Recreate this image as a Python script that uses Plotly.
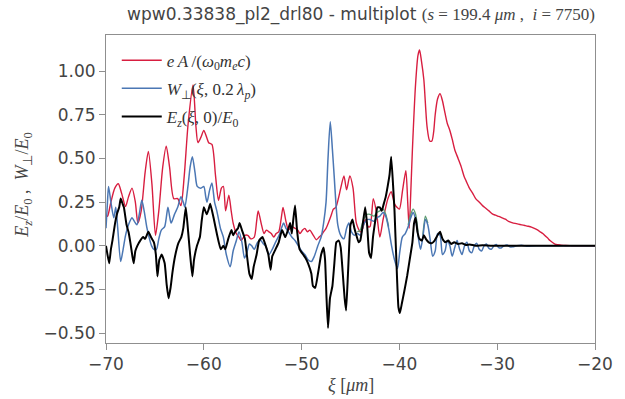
import plotly.graph_objects as go

# ---------------- data ----------------
red_x = [-70.0, -69.84, -69.5, -69.1, -68.74, -68.4, -68.0, -67.7, -67.34, -67.0, -66.74, -66.4, -66.0,
         -65.67, -65.3, -64.94, -64.6, -64.2, -63.84, -63.5, -63.07, -62.67, -62.34, -62.0, -61.6, -61.1,
         -60.8, -60.6, -60.3, -60.0, -59.7, -59.5, -59.17, -58.8, -58.5, -58.2, -58.0, -57.77, -57.44,
         -57.2, -57.0, -56.67, -56.4, -56.17, -55.8, -55.5, -55.2, -54.84, -54.6, -54.44, -54.1, -53.84,
         -53.6, -53.34, -53.1, -52.84, -52.6, -52.34, -52.1, -51.9, -51.6, -51.34, -51.0, -50.67, -50.4,
         -50.17, -49.9, -49.67, -49.4, -49.17, -48.8, -48.5, -48.2, -48.0, -47.75, -47.5, -47.2, -47.0,
         -46.75, -46.5, -46.2, -46.0, -45.67, -45.4, -45.07, -44.74, -44.4, -44.0, -43.75, -43.5, -43.2,
         -43.0, -42.67, -42.34, -42.0, -41.67, -41.4, -41.17, -40.84, -40.5, -40.25, -40.0, -39.67, -39.34,
         -39.15, -39.0, -38.84, -38.67, -38.34, -38.1, -37.94, -37.75, -37.5, -37.17, -36.9, -36.68, -36.5,
         -36.34, -36.1, -35.84, -35.6, -35.34, -35.1, -34.84, -34.6, -34.34, -34.0, -33.67, -33.4, -33.17,
         -32.84, -32.5, -32.2, -31.84, -31.5, -31.17, -30.84, -30.5, -30.17, -29.84, -29.5, -29.17, -28.84,
         -28.5, -28.17, -27.84, -27.5, -27.17, -26.84, -26.5, -26.2, -25.84, -25.6, -25.34, -25.1, -24.84,
         -24.6, -24.34, -24.1, -23.84, -23.5, -23.0, -22.5, -22.0, -20.0]
red_y = [0.17, 0.17, 0.25, 0.33, 0.355, 0.30, 0.225, 0.28, 0.33, 0.25, 0.13, 0.20, 0.42,
         0.54, 0.35, 0.06, 0.20, 0.45, 0.57, 0.45, 0.27, 0.27, 0.23, 0.40, 0.70, 0.92,
         0.68, 0.59, 0.62, 0.66, 0.62, 0.59, 0.58, 0.40, 0.26, 0.33, 0.34, 0.20, 0.29,
         0.20, 0.13, 0.07, 0.05, 0.03, 0.06, 0.06, 0.04, 0.05, 0.14, 0.20, 0.12, 0.07,
         0.09, 0.08, 0.07, 0.05, 0.07, 0.08, 0.15, 0.22, 0.14, 0.09, 0.11, 0.10, 0.09,
         0.07, 0.09, 0.10, 0.08, 0.09, 0.06, 0.035, 0.05, 0.06, 0.08, 0.10, 0.14, 0.17,
         0.21, 0.22, 0.28, 0.33, 0.40, 0.32, 0.40, 0.33, 0.13, 0.08, 0.10, 0.15, 0.11,
         0.11, 0.27, 0.19, 0.05, 0.15, 0.22, 0.27, 0.31, 0.24, 0.22, 0.21, 0.32, 0.43,
         0.25, 0.10, 0.30, 0.55, 0.93, 1.09, 1.12, 1.06, 0.95, 0.68, 0.60, 0.60, 0.65,
         0.75, 0.84, 0.87, 0.83, 0.76, 0.70, 0.66, 0.61, 0.55, 0.50, 0.45, 0.40, 0.37,
         0.33, 0.30, 0.27, 0.25, 0.23, 0.215, 0.20, 0.183, 0.175, 0.168, 0.16, 0.152, 0.14,
         0.133, 0.128, 0.124, 0.12, 0.116, 0.112, 0.107, 0.10, 0.09, 0.08, 0.07, 0.057, 0.044,
         0.03, 0.019, 0.01, 0.006, 0.004, 0.002, 0.001, 0.0, 0.0]

blue_x = [-70.0, -69.85, -69.74, -69.5, -69.2, -69.0, -68.8, -68.5, -68.25, -68.0, -67.7, -67.34, -67.1,
          -66.84, -66.6, -66.34, -66.1, -65.84, -65.6, -65.34, -65.1, -64.84, -64.6, -64.34, -64.0, -63.67,
          -63.5, -63.34, -63.0, -62.67, -62.34, -62.1, -61.94, -61.6, -61.4, -61.17, -60.9, -60.67, -60.3,
          -60.0, -59.8, -59.67, -59.4, -59.17, -58.9, -58.67, -58.3, -58.0, -57.7, -57.3, -57.0, -56.67,
          -56.4, -56.1, -55.84, -55.6, -55.34, -55.1, -54.84, -54.5, -54.17, -53.9, -53.67, -53.34, -53.0,
          -52.67, -52.3, -52.0, -51.84, -51.6, -51.34, -51.0, -50.67, -50.34, -50.0, -49.67, -49.34, -49.0,
          -48.7, -48.34, -48.0, -47.75, -47.5, -47.3, -47.07, -46.85, -46.67, -46.5, -46.3, -46.0, -45.67,
          -45.4, -45.17, -44.9, -44.6, -44.3, -44.0, -43.67, -43.3, -43.0, -42.6, -42.3, -42.0, -41.67,
          -41.4, -41.1, -40.8, -40.5, -40.2, -39.95, -39.7, -39.4, -39.1, -38.84, -38.6, -38.34, -38.1,
          -37.84, -37.6, -37.34, -37.1, -36.84, -36.6, -36.34, -36.1, -35.84, -35.6, -35.34, -35.1, -34.84,
          -34.6, -34.34, -34.1, -33.84, -33.6, -33.34, -33.1, -32.84, -32.6, -32.34, -32.1, -31.84, -31.6,
          -31.34, -31.1, -30.84, -30.6, -30.34, -30.1, -29.84, -29.6, -29.3, -29.0, -28.7, -28.4, -28.0,
          -27.5, -27.0, -26.0, -20.0]
blue_y = [0.10, 0.25, 0.34, 0.25, 0.16, 0.22, 0.10, -0.09, -0.02, 0.06, 0.12, 0.16, 0.14,
          0.12, 0.18, 0.26, 0.20, 0.11, 0.05, 0.00, -0.02, -0.02, 0.04, 0.09, 0.11, 0.22,
          0.17, 0.13, 0.18, 0.22, 0.28, 0.25, 0.22, 0.35, 0.45, 0.51, 0.42, 0.34, 0.33,
          0.34, 0.28, 0.25, 0.32, 0.36, 0.25, 0.20, 0.10, 0.05, -0.05, -0.12, -0.03, 0.03,
          0.08, 0.02, -0.07, -0.04, 0.01, 0.0, -0.02, 0.02, 0.03, 0.01, 0.0, -0.05, -0.02,
          0.02, 0.06, 0.11, 0.13, 0.10, 0.08, 0.05, 0.03, 0.0, -0.03, -0.05, -0.08, -0.09,
          -0.06, 0.0, 0.05, 0.13, 0.25, 0.50, 0.71, 0.55, 0.40, 0.25, 0.12, 0.06, 0.04,
          0.10, 0.13, 0.08, 0.06, 0.07, 0.06, 0.12, 0.15, 0.15, 0.14, 0.16, 0.17, 0.19,
          0.17, 0.10, 0.0, -0.08, -0.13, -0.03, 0.05, 0.07, 0.11, 0.16, 0.19, 0.15, 0.06,
          -0.02, 0.05, 0.15, 0.12, 0.03, -0.06, -0.03, 0.07, 0.06, -0.05, -0.03, 0.03, 0.0,
          -0.06, -0.01, 0.03, -0.02, -0.05, 0.0, 0.02, -0.03, -0.04, 0.0, 0.015, -0.02, -0.03,
          0.0, 0.01, -0.015, -0.02, 0.0, 0.008, -0.01, -0.012, 0.0, 0.005, -0.006, -0.006, 0.0,
          0.003, -0.002, 0.0, 0.0]

black_x = [-70.0, -69.85, -69.67, -69.5, -69.34, -69.07, -68.84, -68.65, -68.5, -68.3, -68.17, -67.9, -67.7,
           -67.5, -67.3, -67.17, -67.0, -66.8, -66.5, -66.2, -66.0, -65.67, -65.4, -65.1, -64.9, -64.74,
           -64.55, -64.3, -64.0, -63.8, -63.6, -63.4, -63.2, -62.94, -62.6, -62.3, -62.1, -61.84, -61.6,
           -61.4, -61.17, -61.0, -60.7, -60.4, -60.2, -60.0, -59.7, -59.5, -59.34, -59.0, -58.67, -58.27,
           -58.0, -57.8, -57.5, -57.17, -57.0, -56.8, -56.5, -56.34, -56.1, -55.8, -55.6, -55.34, -55.1,
           -54.9, -54.6, -54.34, -54.0, -53.67, -53.4, -53.17, -53.0, -52.67, -52.34, -52.0, -51.67, -51.34,
           -51.17, -51.0, -50.85, -50.67, -50.45, -50.2, -49.84, -49.6, -49.34, -49.0, -48.84, -48.6, -48.3,
           -48.0, -47.75, -47.6, -47.45, -47.3, -47.1, -46.85, -46.65, -46.45, -46.2, -46.0, -45.8, -45.6,
           -45.45, -45.25, -45.0, -44.8, -44.6, -44.4, -44.17, -44.0, -43.8, -43.5, -43.3, -43.1, -42.9,
           -42.7, -42.45, -42.25, -42.0, -41.8, -41.6, -41.4, -41.2, -41.0, -40.84, -40.65, -40.5, -40.3,
           -40.1, -39.95, -39.75, -39.5, -39.2, -38.95, -38.67, -38.5, -38.34, -38.15, -37.95, -37.7, -37.5,
           -37.3, -37.0, -36.7, -36.4, -36.1, -35.84, -35.6, -35.3, -35.0, -34.7, -34.4, -34.0, -33.6,
           -33.2, -32.8, -32.2, -31.5, -30.5, -20.0]
black_y = [0.0, -0.05, -0.10, -0.02, 0.03, 0.13, 0.19, 0.22, 0.27, 0.24, 0.22, 0.12, 0.08,
           0.015, -0.06, -0.10, -0.03, 0.0, 0.03, 0.05, 0.04, 0.08, 0.05, 0.02, -0.05, -0.175,
           -0.08, -0.05, -0.10, -0.22, -0.30, -0.24, -0.15, -0.06, 0.015, 0.05, 0.10, 0.22, 0.08,
           -0.05, -0.175, -0.08, 0.0, 0.05, 0.15, 0.22, 0.18, 0.21, 0.24, 0.16, 0.07, -0.02,
           0.0, -0.02, 0.04, 0.09, 0.06, 0.08, 0.10, 0.13, 0.09, 0.04, -0.05, -0.16, -0.19,
           -0.12, -0.05, 0.03, 0.05, 0.0, -0.05, -0.137, -0.06, -0.02, 0.02, 0.09, 0.05, 0.10,
           0.13, 0.07, 0.15, 0.23, 0.08, -0.02, -0.05, -0.07, -0.10, -0.16, -0.23, -0.24, -0.15,
           -0.05, -0.01, -0.08, -0.30, -0.47, -0.30, -0.23, -0.10, 0.02, 0.03, -0.01, -0.15, -0.30,
           -0.37, -0.15, 0.12, 0.15, 0.10, 0.06, 0.02, 0.03, 0.10, 0.22, 0.12, -0.04, -0.07,
           0.05, 0.15, 0.22, 0.22, 0.20, 0.24, 0.28, 0.34, 0.41, 0.51, 0.35, 0.20, -0.10,
           -0.35, -0.385, -0.33, -0.26, -0.17, -0.08, 0.02, 0.13, 0.16, 0.08, 0.04, 0.03, 0.06,
           0.04, 0.02, 0.015, 0.03, 0.06, 0.08, 0.04, 0.02, 0.03, 0.01, 0.02, 0.01, 0.015,
           0.005, 0.008, 0.0, 0.003, 0.0, 0.0]

# faint green line peeking out above the blue one
green_x = [-44.3, -44.0, -43.67, -43.3, -43.0, -42.6, -42.3, -42.0, -41.67, -41.4, -41.1, None,
           -39.1, -38.84, -38.6, -38.34, -38.1, None, -37.6, -37.34, -37.1]
green_y = [0.08, 0.09, 0.15, 0.18, 0.18, 0.17, 0.19, 0.20, 0.21, 0.18, 0.11, None,
           0.12, 0.18, 0.21, 0.18, 0.08, None, 0.06, 0.17, 0.13]

x_ticks = [-70, -60, -50, -40, -30, -20]
x_ticktext = ["\u221270", "\u221260", "\u221250", "\u221240", "\u221230", "\u221220"]
y_ticks = [-0.5, -0.25, 0.0, 0.25, 0.5, 0.75, 1.0]
y_ticktext = ["\u22120.50", "\u22120.25", "0.00", "0.25", "0.50", "0.75", "1.00"]

names = ["<i>e\u2009A</i>\u2009/(<i>\u03c9</i><sub>0</sub><i>m<sub>e</sub>c</i>)",
         "<i>W</i><sub>\u22a5</sub>(<i>\u03be</i>, 0.2\u2009<i>\u03bb<sub>p</sub></i>)",
         "<i>E<sub>z</sub></i>(<i>\u03be</i>, 0)/<i>E</i><sub>0</sub>"]

RED = "#d81e40"
BLUE = "#4b77b4"
BLACK = "#000000"
GREEN = "#5e9c72"
AXC = "#8f8f8f"
TXT = "#444444"

fig = go.Figure()
fig.add_trace(go.Scatter(x=red_x, y=red_y, mode="lines", name=names[0], legendgroup="a",
                         line=dict(color=RED, width=1.4, shape="spline", smoothing=0.7)))
fig.add_trace(go.Scatter(x=green_x, y=green_y, mode="lines", showlegend=False, legendgroup="b",
                         line=dict(color=GREEN, width=1.4, shape="spline", smoothing=0.7),
                         connectgaps=False))
fig.add_trace(go.Scatter(x=blue_x, y=blue_y, mode="lines", name=names[1], legendgroup="b",
                         line=dict(color=BLUE, width=1.5, shape="spline", smoothing=0.7)))
fig.add_trace(go.Scatter(x=black_x, y=black_y, mode="lines", name=names[2], legendgroup="c",
                         line=dict(color=BLACK, width=2.0, shape="spline", smoothing=0.4)))

fig.update_layout(
    width=625, height=399,
    margin=dict(l=106, r=18, t=35, b=56),
    paper_bgcolor="white", plot_bgcolor="white",
    font=dict(family="DejaVu Sans", size=17, color=TXT),
    showlegend=True,
    legend=dict(x=0.022, y=0.975, xanchor="left", yanchor="top",
                bgcolor="rgba(255,255,255,0)", borderwidth=0,
                font=dict(family="Liberation Serif", size=17, color="#333333"),
                tracegroupgap=3, itemwidth=40, traceorder="grouped"),
    title=dict(text="wpw0.33838_pl2_drl80 - multiplot <span style='font-family:Liberation Serif'>(<i>s</i> = 199.4 <i>\u03bcm</i> ,  <i>i</i> = 7750)</span>",
               x=1.0, xref="paper", xanchor="right",
               y=1 - 14 / 399, yref="container", yanchor="middle",
               font=dict(family="DejaVu Sans", size=17, color=TXT)),
    xaxis=dict(range=[-70, -20], tickvals=x_ticks, ticktext=x_ticktext,
               showline=True, mirror=True, linecolor=AXC, linewidth=1,
               ticks="outside", ticklen=6, tickcolor=AXC, showgrid=False, zeroline=False,
               tickfont=dict(size=17, color=TXT)),
    yaxis=dict(range=[-0.556, 1.206], tickvals=y_ticks, ticktext=y_ticktext,
               showline=True, mirror=True, linecolor=AXC, linewidth=1,
               ticks="outside", ticklen=6, tickcolor=AXC, showgrid=False, zeroline=False,
               tickfont=dict(size=17, color=TXT)),
    annotations=[
        dict(text="<i>E<sub>z</sub></i>/<i>E</i><sub>0</sub> ,  <i>W</i><sub>\u22a5</sub>/<i>E</i><sub>0</sub>",
             xref="paper", yref="paper", x=(22 - 106) / 501, y=(343.5 - 185) / 308.5,
             xanchor="center", yanchor="middle", textangle=-90, showarrow=False,
             font=dict(family="Liberation Serif", size=18, color=TXT)),
        dict(text="<i>\u03be</i> [<i>\u03bcm</i>]",
             xref="paper", yref="paper", x=0.5, y=(343.5 - 386) / 308.5,
             xanchor="center", yanchor="middle", showarrow=False,
             font=dict(family="Liberation Serif", size=18, color=TXT)),
    ],
)

fig.write_html("out.html")
